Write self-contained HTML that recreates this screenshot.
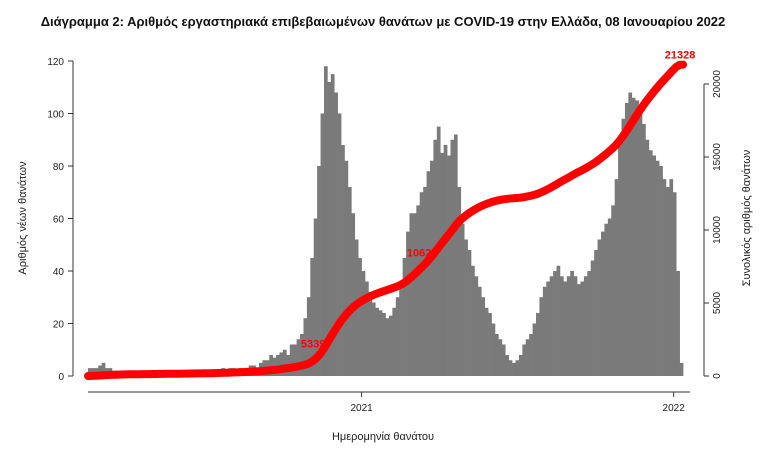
<!DOCTYPE html>
<html><head><meta charset="utf-8"><style>
body{margin:0;background:#fff}
svg{display:block;font-family:"Liberation Sans","DejaVu Sans",sans-serif}
</style></head><body>
<svg id="chart" width="760" height="456">
<text x="383" y="26" text-anchor="middle" font-size="13" font-weight="bold" fill="#111">Διάγραμμα 2: Αριθμός εργαστηριακά επιβεβαιωμένων θανάτων με COVID-19 στην Ελλάδα, 08 Ιανουαρίου 2022</text>
<g id="bars"></g>
<g id="axes"></g>
<path id="cumline" fill="none" stroke="#ff0000" stroke-width="8" stroke-linecap="round" stroke-linejoin="round"/>
<g id="labels"></g>
<text x="0" y="0" transform="translate(26,218) rotate(-90)" text-anchor="middle" font-size="11" fill="#222">Αριθμός νέων θανάτων</text>
<text x="0" y="0" transform="translate(750,218) rotate(-90)" text-anchor="middle" font-size="11" fill="#222">Συνολικός αριθμός θανάτων</text>
<text x="383" y="440" text-anchor="middle" font-size="11" fill="#222">Ημερομηνία θανάτου</text>
</svg>
<script>
// values: deaths per day, averaged over 4-day bins starting ~ mid Feb 2020
const binValues = [3,3,3,4,5,3,3,2,2,2, 2,2,1,1,1,1,1,0,1,1, 1,1,1,1,1,0,1,1,1,1,
 1,1,1,1,1,1,2,2,2,3, 2,3,3,2,3,3,3,4,4,3, 5,6,6,8,7,8,9,10,8,12,
 12,14,16,22,30,45,60,80,100,118, 112,115,108,100,88,82,72,62,52,45,
 40,36,32,28,26,25,24,22,23,26, 30,35,45,55,62,62,65,70,72,78,
 82,90,95,85,88,84,90,92,72,58, 52,48,42,38,34,30,26,24,20,16,
 14,12,8,6,5,6,8,12,14,16, 20,24,30,34,36,38,40,42,38,36,
 38,40,38,35,36,38,40,44,48,52, 55,58,60,65,75,88,98,104,108,106,
 105,102,96,90,86,84,82,80,75,72, 75,70,40,5];
const daysPerBin = 4;
const totalDeaths = 21328;
const leftTicks = [0,20,40,60,80,100,120];
const rightTicks = [0,5000,10000,15000,20000];
const yearTicks = [{label:"2021", day:320},{label:"2022", day:685}];
const cumLabels = [{label:"5339", bin:67},{label:"1062", bin:98}];

const NS="http://www.w3.org/2000/svg";
const x0=88, pxPerDay=0.855, yBase=376;
const xDay=d=>x0+d*pxPerDay;
const yL=v=>yBase-v*2.625;
const yR=v=>yBase-v*(292/20000);
function mk(tag,attrs,parent){const e=document.createElementNS(NS,tag);for(const k in attrs)e.setAttribute(k,attrs[k]);parent.appendChild(e);return e;}

const bars=document.getElementById('bars');
const bw=daysPerBin*pxPerDay;
binValues.forEach((v,i)=>{
  const r=mk('rect',{x:xDay(i*daysPerBin),y:yL(v),width:bw+0.3,height:yBase-yL(v),fill:'#7a7a7a'},bars);
  
  
});

// cumulative
let cum=[],s=0;
binValues.forEach(v=>{s+=v*daysPerBin;cum.push(s);});
const scale=totalDeaths/s;
let d='M'+xDay(0)+','+yR(0);
cum.forEach((c,i)=>{d+=' L'+xDay((i+1)*daysPerBin).toFixed(1)+','+yR(c*scale).toFixed(1);});
document.getElementById('cumline').setAttribute('d',d);

const labels=document.getElementById('labels');
cumLabels.forEach(l=>{
  const t=mk('text',{x:xDay(l.bin*daysPerBin)-4,y:yR(cum[l.bin]*scale)-6,'text-anchor':'middle','font-size':'11','font-weight':'bold',fill:'#ff0000'},labels);
  t.textContent=l.label;
  
  
});
const lastX=xDay(binValues.length*daysPerBin), lastY=yR(totalDeaths);
const tl=mk('text',{x:lastX-3,y:lastY-6,'text-anchor':'middle','font-size':'11','font-weight':'bold',fill:'#ff0000'},labels);
tl.textContent=String(totalDeaths);



// axes
const ax=document.getElementById('axes');
mk('line',{x1:73,y1:yL(0),x2:73,y2:yL(120),stroke:'#333'},ax);
leftTicks.forEach(v=>{
  mk('line',{x1:68,y1:yL(v),x2:73,y2:yL(v),stroke:'#333'},ax);
  const t=mk('text',{x:64,y:yL(v)+4,'text-anchor':'end','font-size':'10',fill:'#222'},ax);
  t.textContent=v;
  
  
});
mk('line',{x1:704,y1:yR(0),x2:704,y2:yR(20000),stroke:'#333'},ax);
rightTicks.forEach(v=>{
  mk('line',{x1:704,y1:yR(v),x2:709,y2:yR(v),stroke:'#333'},ax);
  const t=mk('text',{x:0,y:0,transform:'translate(720,'+yR(v)+') rotate(-90)','text-anchor':'middle','font-size':'10',fill:'#222'},ax);
  t.textContent=v;
  
  
});
mk('line',{x1:88,y1:392,x2:690,y2:392,stroke:'#333'},ax);
yearTicks.forEach(y=>{
  const x=xDay(y.day);
  mk('line',{x1:x,y1:392,x2:x,y2:397,stroke:'#333'},ax);
  const t=mk('text',{x:x,y:411,'text-anchor':'middle','font-size':'10',fill:'#222'},ax);
  t.textContent=y.label;
  
  
});
</script>
</body></html>
